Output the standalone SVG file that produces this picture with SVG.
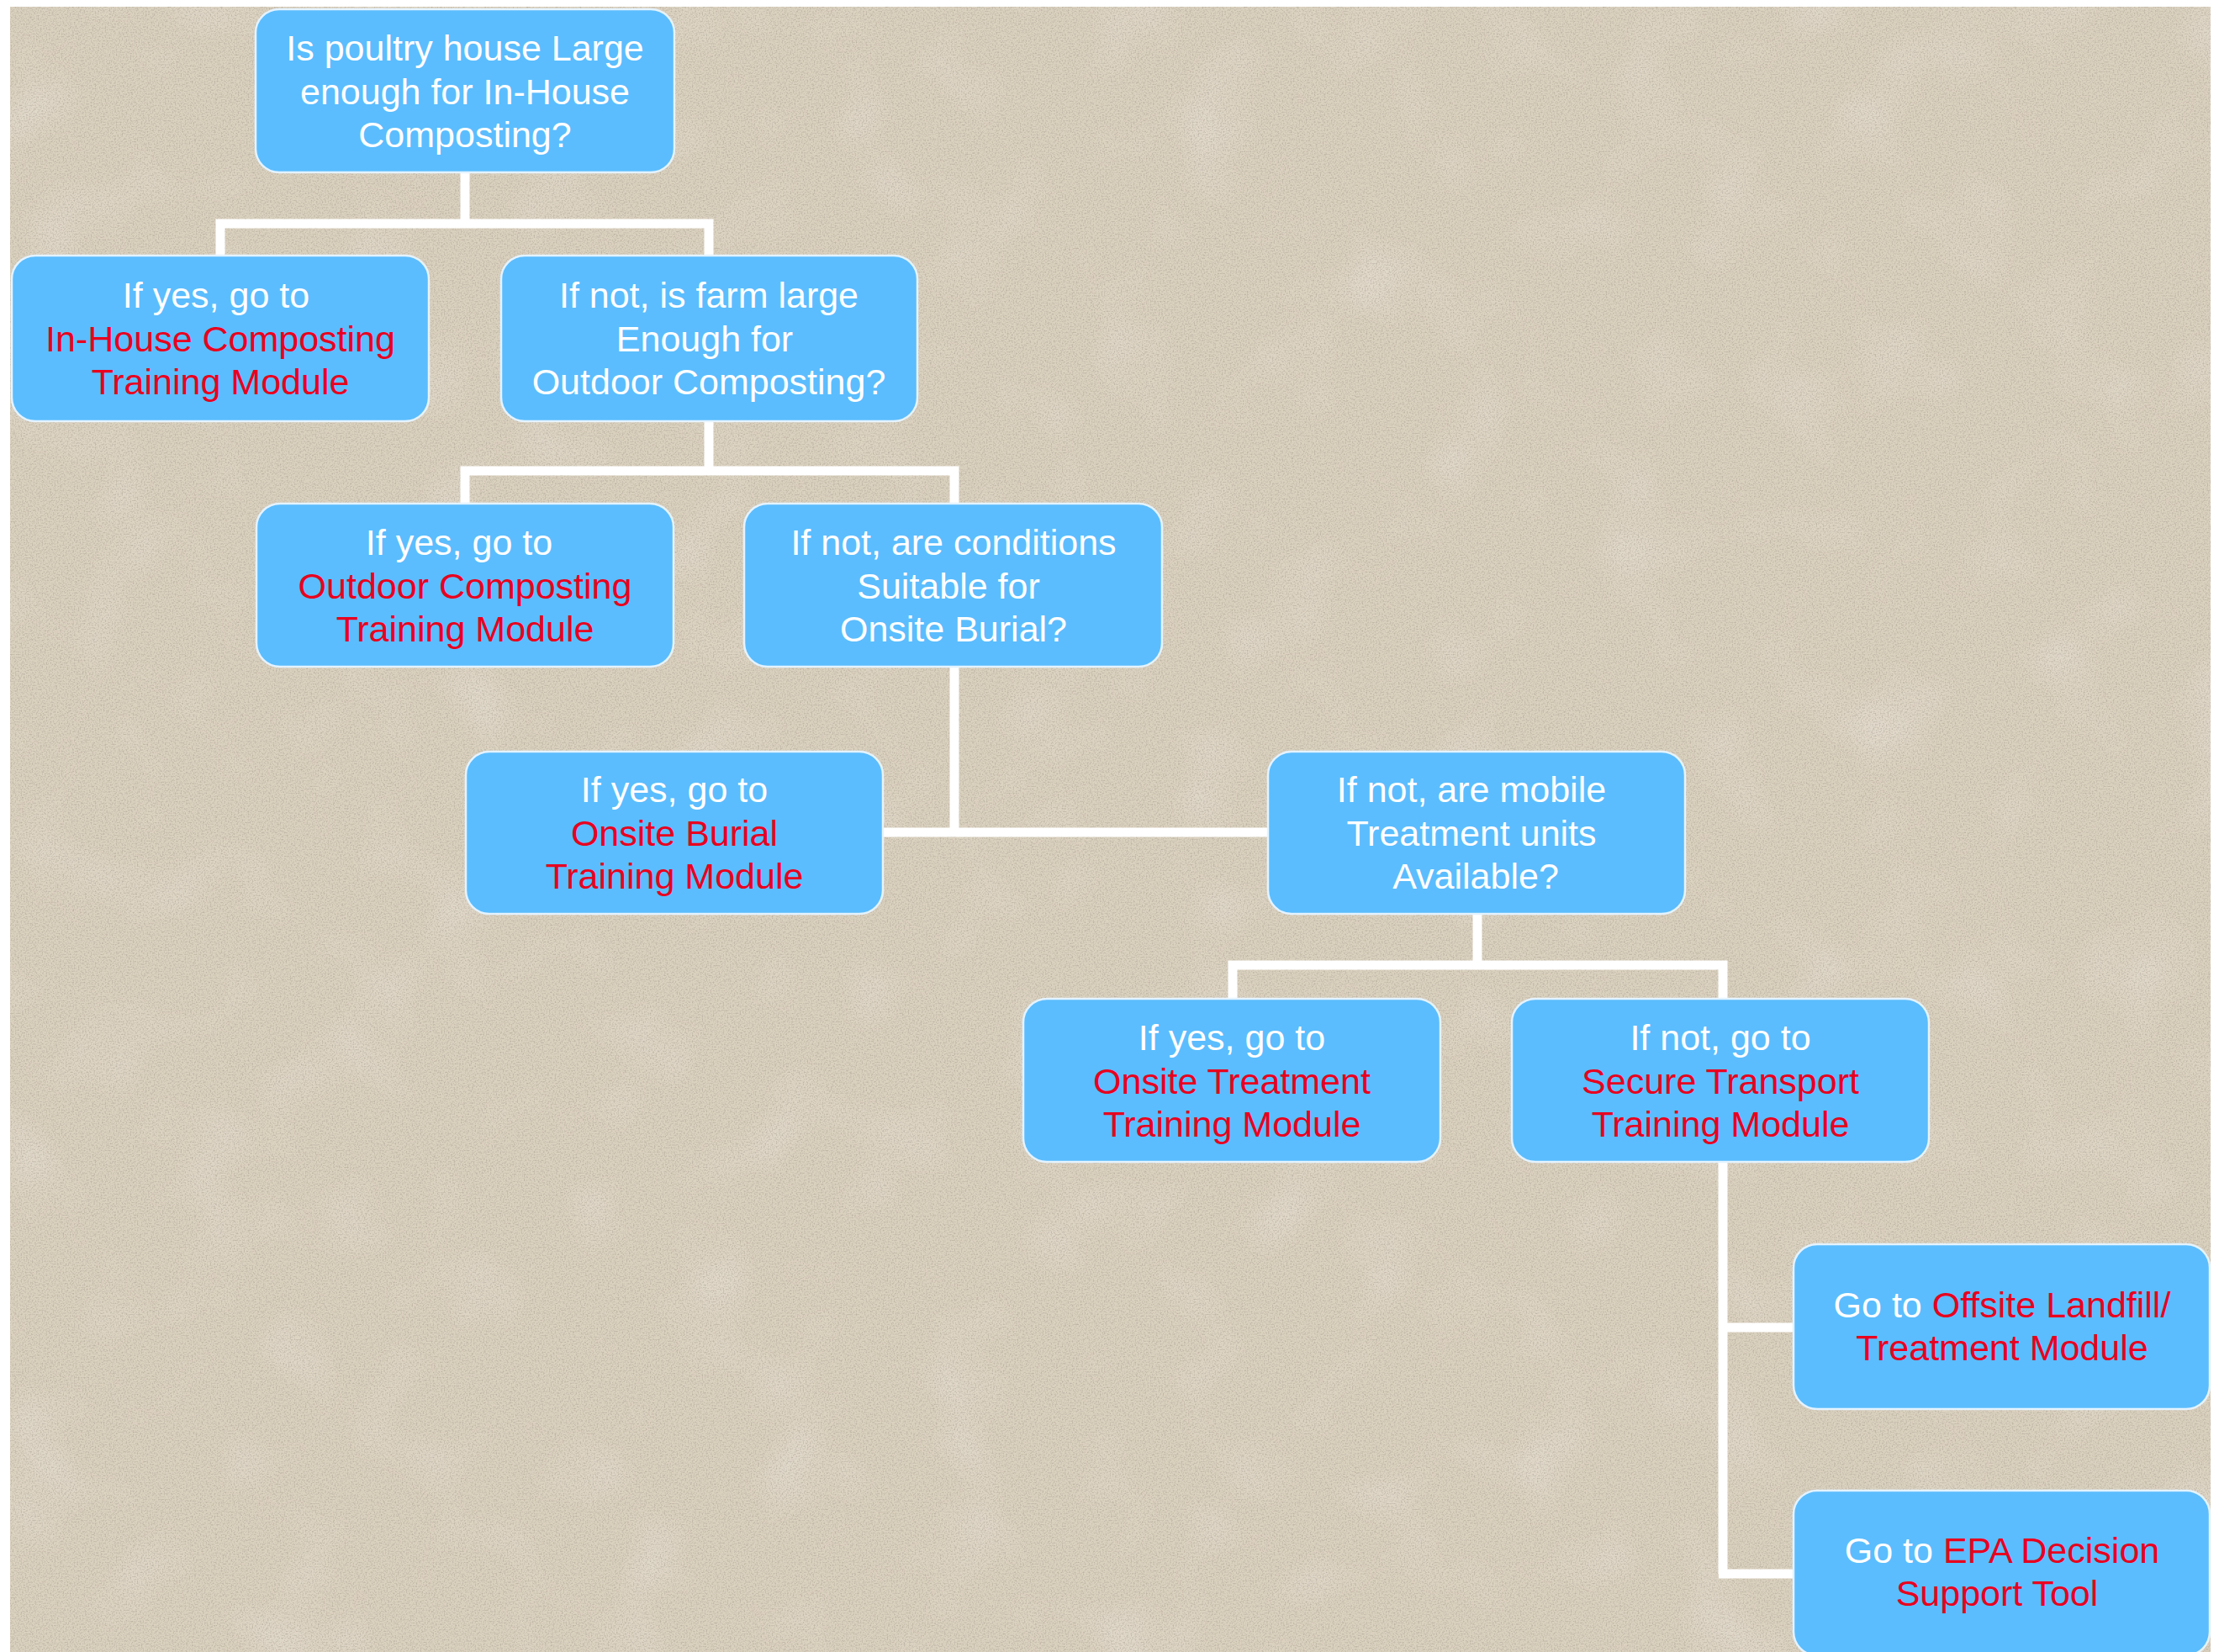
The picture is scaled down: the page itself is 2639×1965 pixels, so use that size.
<svg xmlns="http://www.w3.org/2000/svg" width="2639" height="1965" viewBox="0 0 2639 1965">
  <style>
    .box { fill: #5BBDFD; stroke: #E4F3FF; stroke-width: 2.5; }
    .t { font-family: "Liberation Sans", Arial, sans-serif; font-size: 43px; text-anchor: middle; fill: #FFFFFF; }
    .r { fill: #E8001E; }
    .conn { fill: none; stroke: #FFFFFF; stroke-width: 11; stroke-linejoin: miter; stroke-linecap: butt; }
  </style>
  <defs>
    <filter id="grain" x="0" y="0" width="100%" height="100%">
      <feTurbulence type="fractalNoise" baseFrequency="0.6" numOctaves="2" seed="7" result="n"/>
      <feColorMatrix in="n" type="matrix" values="0 0 0 0 0.35  0 0 0 0 0.31  0 0 0 0 0.25  0 0 0 -2.6 1.45" result="spots"/>
      <feComposite in="spots" in2="SourceGraphic" operator="in"/>
    </filter>
    <filter id="mottle" x="0" y="0" width="100%" height="100%">
      <feTurbulence type="fractalNoise" baseFrequency="0.01" numOctaves="2" seed="3" result="m"/>
      <feColorMatrix in="m" type="matrix" values="0 0 0 0 0.89  0 0 0 0 0.85  0 0 0 0 0.83  0 0 0 1.2 -0.62"/>
      <feComposite in2="SourceGraphic" operator="in"/>
    </filter>
  </defs>

  <rect x="0" y="0" width="2639" height="1965" fill="#FFFFFF"/>
  <rect x="12" y="8" width="2617" height="1957" fill="#DBD1BF"/>
  <rect x="12" y="8" width="2617" height="1957" fill="#DBD1BF" filter="url(#mottle)" opacity="0.6"/>
  <rect x="12" y="8" width="2617" height="1957" fill="#000" filter="url(#grain)" opacity="0.5"/>

  <g id="connectors">
    <path class="conn" d="M553,205 V266 M262,304 V266 H843 V304"/>
    <path class="conn" d="M843,501 V560 M553,599 V560 H1135 V599"/>
    <path class="conn" d="M1135,793 V990 M1050,990 H1507"/>
    <path class="conn" d="M1757,1087 V1148 M1466,1188 V1148 H2049 V1188"/>
    <path class="conn" d="M2049,1382 V1872 M2049,1579 H2134 M2044,1872 H2134"/>
  </g>

  <g id="n1">
    <rect class="box" x="304" y="11" width="498" height="194" rx="28"/>
    <text class="t" x="553" y="72">Is poultry house Large</text>
    <text class="t" x="553" y="124">enough for In-House</text>
    <text class="t" x="553" y="175">Composting?</text>
  </g>

  <g id="n2">
    <rect class="box" x="14" y="304" width="496" height="197" rx="28"/>
    <text class="t" x="257" y="366">If yes, go to</text>
    <text class="t r" x="262" y="418">In-House Composting</text>
    <text class="t r" x="262" y="469">Training Module</text>
  </g>

  <g id="n3">
    <rect class="box" x="596" y="304" width="495" height="197" rx="28"/>
    <text class="t" x="843" y="366">If not, is farm large</text>
    <text class="t" x="838" y="418">Enough for</text>
    <text class="t" x="843" y="469">Outdoor Composting?</text>
  </g>

  <g id="n4">
    <rect class="box" x="305" y="599" width="496" height="194" rx="28"/>
    <text class="t" x="546" y="660">If yes, go to</text>
    <text class="t r" x="553" y="712">Outdoor Composting</text>
    <text class="t r" x="553" y="763">Training Module</text>
  </g>

  <g id="n5">
    <rect class="box" x="885" y="599" width="497" height="194" rx="28"/>
    <text class="t" x="1134" y="660">If not, are conditions</text>
    <text class="t" x="1128" y="712">Suitable for</text>
    <text class="t" x="1134" y="763">Onsite Burial?</text>
  </g>

  <g id="n6">
    <rect class="box" x="554" y="894" width="496" height="193" rx="28"/>
    <text class="t" x="802" y="954">If yes, go to</text>
    <text class="t r" x="802" y="1006">Onsite Burial</text>
    <text class="t r" x="802" y="1057">Training Module</text>
  </g>

  <g id="n7">
    <rect class="box" x="1508" y="894" width="496" height="193" rx="28"/>
    <text class="t" x="1750" y="954">If not, are mobile</text>
    <text class="t" x="1750" y="1006">Treatment units</text>
    <text class="t" x="1755" y="1057">Available?</text>
  </g>

  <g id="n8">
    <rect class="box" x="1217" y="1188" width="496" height="194" rx="28"/>
    <text class="t" x="1465" y="1249">If yes, go to</text>
    <text class="t r" x="1465" y="1301">Onsite Treatment</text>
    <text class="t r" x="1465" y="1352">Training Module</text>
  </g>

  <g id="n9">
    <rect class="box" x="1798" y="1188" width="496" height="194" rx="28"/>
    <text class="t" x="2046" y="1249">If not, go to</text>
    <text class="t r" x="2046" y="1301">Secure Transport</text>
    <text class="t r" x="2046" y="1352">Training Module</text>
  </g>

  <g id="n10">
    <rect class="box" x="2133" y="1480" width="495" height="196" rx="28"/>
    <text class="t" x="2381" y="1567">Go to <tspan class="r">Offsite Landfill/</tspan></text>
    <text class="t r" x="2381" y="1618">Treatment Module</text>
  </g>

  <g id="n11">
    <rect class="box" x="2133" y="1773" width="495" height="196" rx="28"/>
    <text class="t" x="2381" y="1859">Go to <tspan class="r">EPA Decision</tspan></text>
    <text class="t r" x="2375" y="1910">Support Tool</text>
  </g>
</svg>
